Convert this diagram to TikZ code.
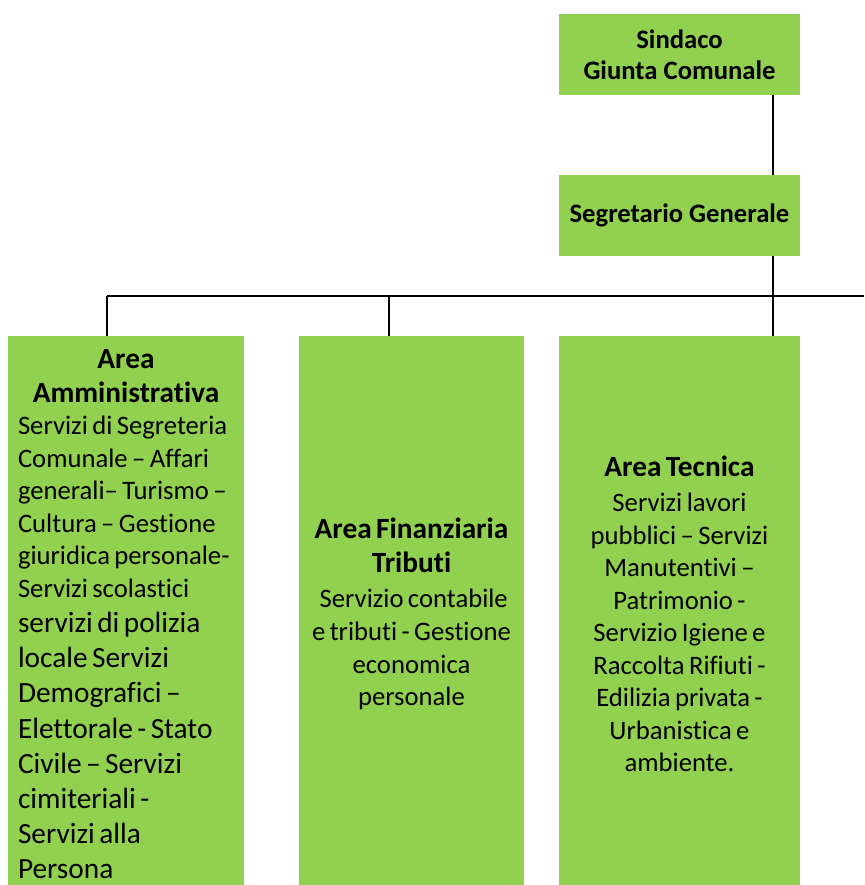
\documentclass[tikz,border=0pt]{standalone}
\usepackage{fontspec}
\setmainfont{Carlito}[Ligatures=NoCommon]

\definecolor{areagreen}{RGB}{146,208,80}
\newcommand{\areatitle}{\fontsize{22}{25.5}\selectfont\bfseries}
\newcommand{\areabody}{\fontsize{20}{24.4}\selectfont}
\newcommand{\areabig}{\fontsize{22}{26.4}\selectfont}

\tikzset{
  box/.style={fill=areagreen, inner sep=0pt, align=center, font=\fontsize{20}{23.3}\selectfont\bfseries},
  topbox/.style={box, minimum width=180.75pt, minimum height=60.75pt},
  areabox/.style={fill=areagreen, inner sep=0pt, minimum height=417pt},
  link/.style={line width=1.1pt},
}

\begin{document}
\begin{tikzpicture}[x=0.75pt,y=0.75pt,yscale=-1,xscale=1]
\useasboundingbox (0,0) rectangle (864,885);

% top boxes
\node (sindaco) [topbox] at (679.5,54.5) {Sindaco\\Giunta Comunale};
\node (segretario) [topbox] at (679.5,215.5) {Segretario Generale};

% area boxes
\node (amministrativa) [areabox, minimum width=177pt, text width=162pt] at (126,614) {%
  {\areatitle\centering Area\\Amministrativa\par}
  {\areabody\raggedright Servizi di Segreteria\\Comunale – Affari\\generali– Turismo –\\Cultura – Gestione\\giuridica personale-\\Servizi scolastici\par}
  {\areabig\raggedright servizi di polizia\\locale Servizi\\Demografici –\\Elettorale - Stato\\Civile – Servizi\\cimiteriali -\\Servizi alla\\Persona\par}};
\node (finanziaria) [areabox, minimum width=168.75pt, text width=160pt] at (411.5,614) {%
  {\areatitle\centering Area Finanziaria\\Tributi\par}
  \vspace{2pt}
  {\areabody\centering \ Servizio contabile\\e tributi - Gestione\\economica\\personale\par}};
\node (tecnica) [areabox, minimum width=180.75pt, text width=170pt] at (679.5,614) {%
  {\areatitle\centering Area Tecnica\par}
  \vspace{2pt}
  {\areabody\centering Servizi lavori\\pubblici – Servizi\\Manutentivi –\\Patrimonio -\\Servizio Igiene e\\Raccolta Rifiuti -\\Edilizia privata -\\Urbanistica e\\ambiente.\par}};

% connectors
\coordinate (trunk) at (773,296);
\coordinate (busleft) at (107,296);
\coordinate (busmid) at (389,296);
\coordinate (busright) at (864,296);
\draw[link] (sindaco.south -| trunk) -- (segretario.north -| trunk);
\draw[link] (segretario.south -| trunk) -- (tecnica.north -| trunk);
\draw[link] (busleft) -- (busright);
\draw[link] (busleft) -- (busleft |- amministrativa.north);
\draw[link] (busmid) -- (busmid |- finanziaria.north);

\end{tikzpicture}
\end{document}
